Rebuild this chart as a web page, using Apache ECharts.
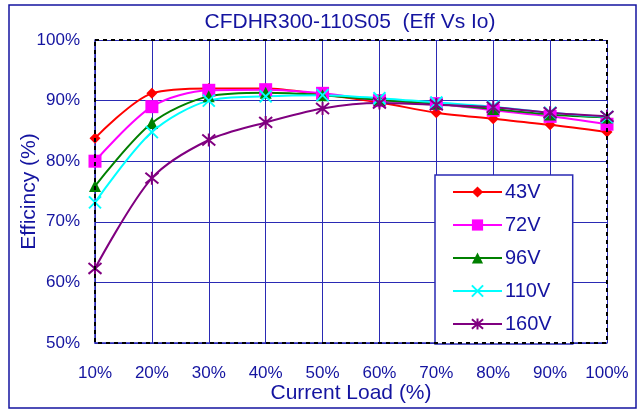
<!DOCTYPE html>
<html>
<head>
<meta charset="utf-8">
<script src="https://cdn.jsdelivr.net/npm/echarts@6/dist/echarts.min.js"></script>
<style>
html,body{margin:0;padding:0;background:#fff;}
#chart{width:642px;height:412px;}
</style>
</head>
<body>
<div id="chart"></div>
<script>
const categories = ['10%','20%','30%','40%','50%','60%','70%','80%','90%','100%'];
const yTicks = [50, 60, 70, 80, 90, 100];
const v43 = [83.8, 91.2, 92.0, 92.0, 91.0, 89.7, 88.0, 87.0, 86.0, 84.8];
const v72 = [80.0, 89.0, 91.7, 91.8, 91.2, 90.0, 89.5, 88.4, 87.4, 86.1];
const v96 = [75.9, 86.3, 90.7, 91.3, 90.9, 90.1, 89.5, 88.6, 87.7, 87.2];
const v110 = [73.2, 84.8, 90.0, 90.7, 90.9, 90.4, 89.7, 89.0, 88.0, 87.3];
const v160 = [62.3, 77.2, 83.5, 86.4, 88.7, 89.6, 89.3, 88.9, 88.0, 87.4];
const seriesNames = ['43V','72V','96V','110V','160V'];

const TXT = '#1414a0';
const FONT = '"Liberation Sans", Arial, sans-serif';
const GRID = '#2a2ab4';

const chart = echarts.init(document.getElementById('chart'), null, {renderer:'canvas'});

const CROSS = 'path://M0,0L10,10M10,0L0,10';
const STAR = 'path://M0,0L10,10M10,0L0,10M5,-1L5,11';

function mk(name, data, color, symbol, size, stroked){
  return {
    name: name, type: 'line', data: data, smooth: 0.3,
    symbol: symbol, symbolSize: size,
    lineStyle: {color: color, width: 2},
    itemStyle: stroked ? {color: color, borderColor: color, borderWidth: 2} : {color: color, borderWidth: 0},
    emphasis: {disabled: true},
    animation: false
  };
}

const option = {
  backgroundColor: '#fff',
  animation: false,
  title: {
    text: 'CFDHR300-110S05  (Eff Vs Io)',
    left: 345, top: 7, textAlign: 'center',
    textStyle: {color: TXT, fontFamily: FONT, fontSize: 21, fontWeight: 'normal'}
  },
  grid: {left: 95, right: 35, top: 40, bottom: 69, containLabel: false},
  xAxis: {
    type: 'category', data: categories, boundaryGap: false,
    name: 'Current Load (%)', nameLocation: 'middle', nameGap: 40, nameMoveOverlap: false,
    nameTextStyle: {color: TXT, fontFamily: FONT, fontSize: 21},
    axisLine: {show: true, lineStyle: {color: GRID, width: 1.5}},
    axisTick: {show: false},
    axisLabel: {color: TXT, fontFamily: FONT, fontSize: 17, margin: 22, interval: 0},
    splitLine: {show: true, interval: 0, lineStyle: {color: GRID, width: 1}}
  },
  yAxis: {
    type: 'value', min: yTicks[0], max: yTicks[yTicks.length-1], interval: 10,
    name: 'Efficincy (%)', nameLocation: 'middle', nameGap: 55, nameMoveOverlap: false,
    nameTextStyle: {color: TXT, fontFamily: FONT, fontSize: 21},
    axisLine: {show: true, lineStyle: {color: GRID, width: 1.5}},
    axisTick: {show: false},
    axisLabel: {color: TXT, fontFamily: FONT, fontSize: 17, margin: 15, formatter: '{value}%'},
    splitLine: {show: true, lineStyle: {color: GRID, width: 1}}
  },
  legend: {
    orient: 'vertical', left: 435, top: 175,
    padding: [7, 21, 10, 17],
    itemWidth: 49, itemHeight: 14, itemGap: 13,
    backgroundColor: '#fff', borderColor: GRID, borderWidth: 1.5,
    textStyle: {color: TXT, fontFamily: FONT, fontSize: 20, lineHeight: 20, padding: [0,0,0,-2]},
    data: seriesNames
  },
  graphic: [
    {type: 'rect', shape: {x: 9, y: 5, width: 627, height: 403}, style: {fill: 'none', stroke: '#1414a0', lineWidth: 1.5}, silent: true, z: 100},
    {type: 'rect', shape: {x: 95, y: 40, width: 512, height: 303}, style: {fill: 'none', stroke: '#000', lineWidth: 2, lineDash: [4, 4]}, silent: true, z: 100}
  ],
  series: [
    mk(seriesNames[0], v43, '#ff0000', 'diamond', 11, false),
    mk(seriesNames[1], v72, '#ff00ff', 'rect', 13, false),
    mk(seriesNames[2], v96, '#008000', 'triangle', 12, false),
    mk(seriesNames[3], v110, '#00ffff', CROSS, 12, true),
    mk(seriesNames[4], v160, '#800080', STAR, 13, true)
  ]
};
chart.setOption(option);
</script>
</body>
</html>
